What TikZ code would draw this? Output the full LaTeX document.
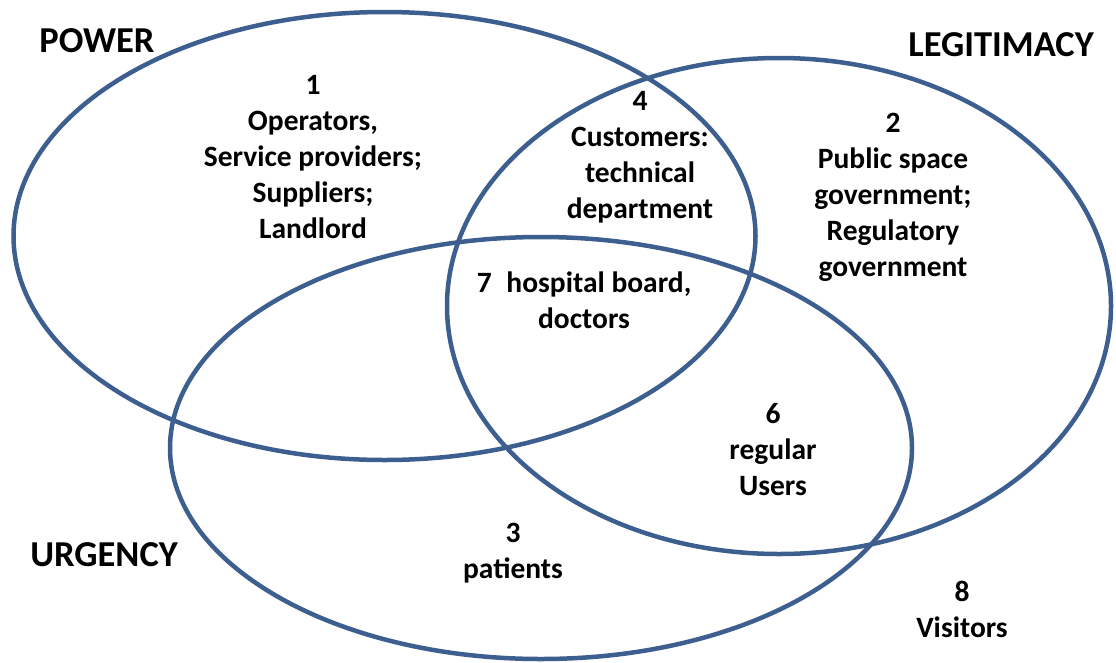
\documentclass[tikz,border=0pt]{standalone}
\usepackage{fontspec}
\setmainfont{Carlito}
\definecolor{vennblue}{RGB}{61,95,143}
\begin{document}
\begin{tikzpicture}[x=1pt,y=-1pt,
  ring/.style={draw=vennblue,line width=4.5pt},
  lbl/.style={font=\bfseries\fontsize{29.5}{36}\selectfont,align=center,inner sep=0pt},
  ttl/.style={font=\bfseries\fontsize{36.5}{40}\selectfont,inner sep=0pt}]
\useasboundingbox (0,0) rectangle (1116,662);
\draw[ring] (384.5,236) ellipse [x radius=371pt, y radius=224pt];
\draw[ring] (779,306) ellipse [x radius=332pt, y radius=248pt];
\draw[ring] (541,448) ellipse [x radius=371pt, y radius=211pt];
\node[ttl] (power) at (97,41) {POWER};
\node[ttl] (legit) at (1001,45) {LEGITIMACY};
\node[ttl] (urg) at (104,555) {URGENCY};
\node[lbl] (n1) at (313,157) {1\\Operators,\\Service providers;\\Suppliers;\\Landlord};
\node[lbl] (n4) at (640,157) {4\\Customers:\\technical\\department};
\node[lbl] (n2) at (893,197) {2\\Public space\\government;\\Regulatory\\government};
\node[lbl] (n7) at (584,300) {7\enspace hospital board,\\doctors};
\node[lbl] (n6) at (773,450) {6\\regular\\Users};
\node[lbl] (n3) at (513,553) {3\\patients};
\node[lbl] (n8) at (962,609) {8\\Visitors};
\end{tikzpicture}
\end{document}
